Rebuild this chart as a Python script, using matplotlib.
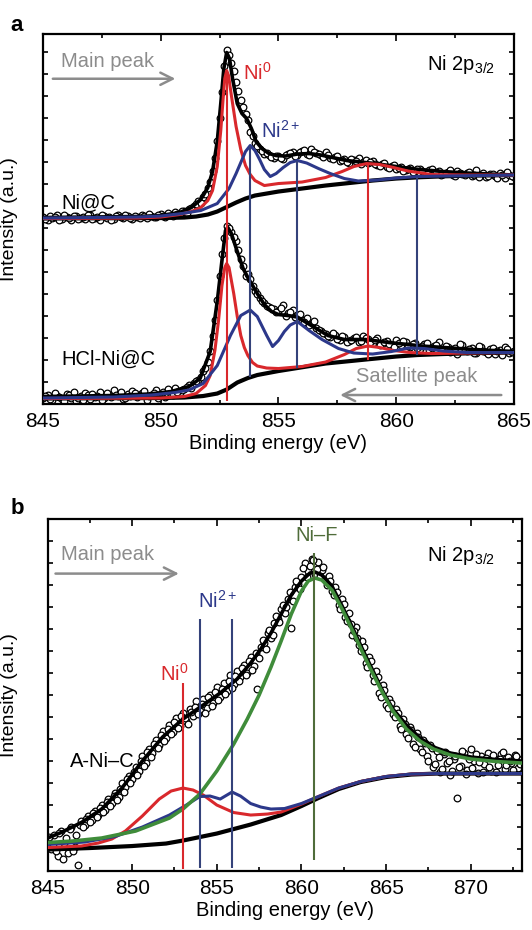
import numpy as np
import matplotlib
matplotlib.use('Agg')
import matplotlib.pyplot as plt
from matplotlib.ticker import MultipleLocator

plt.rcParams['font.family'] = ['Liberation Sans', 'DejaVu Sans']
plt.rcParams['mathtext.fontset'] = 'custom'
plt.rcParams['mathtext.rm'] = 'Liberation Sans'
plt.rcParams['mathtext.default'] = 'regular'

# ---------------- panel a : Ni@C (upper trace) ----------------
a1_bg_e = [845, 850, 851, 851.5, 852, 852.4, 852.8, 853.2, 853.6, 854, 855, 856, 857, 858, 859, 860, 861, 862, 863, 865]
a1_bg_i = [185, 185.5, 186, 187, 189, 192, 196.5, 201, 205, 208, 212, 215, 218, 220.5, 223, 225, 226.3, 227.2, 227.8, 228.5]

a1_ni0_e = [845, 849, 850, 850.8, 851.3, 851.7, 852.0, 852.2, 852.4, 852.55, 852.65, 852.72, 852.8, 852.88, 853.0, 853.2,
            853.4, 853.6, 853.8, 854.0, 854.4, 855, 856, 857, 857.7, 858.2, 858.75, 859.3, 859.8, 860.5, 861.5, 863, 865]
a1_ni0_i = [185, 185.5, 186.5, 189, 192, 196, 203, 213, 237, 273, 305, 325, 333, 328, 308, 277,
            254, 238, 229, 223, 218, 220, 221.5, 226, 232, 237, 240, 239, 236.5, 232.5, 229, 228.5, 228.5]

a1_ni2_e = [845, 849, 850, 850.9, 851.7, 852.4, 852.9, 853.2, 853.4, 853.6, 853.8, 854.0, 854.2, 854.4, 854.65,
            854.9, 855.2, 855.5, 855.8, 856.2, 856.7, 857.2, 857.8, 858.4, 859.2, 860, 860.9, 862, 865]
a1_ni2_i = [185.5, 186.5, 187.5, 190, 193, 200, 215, 230, 241, 252, 258, 253, 244, 234, 227,
            230, 236, 241, 243, 240.5, 235, 230, 225, 222.5, 223.5, 225.5, 227, 227.5, 228.5]

a1_fit_e = [845, 847, 849, 850, 850.8, 851.3, 851.7, 852.0, 852.2, 852.4, 852.55, 852.68, 852.8, 852.92, 853.05, 853.25,
            853.45, 853.65, 853.85, 854.05, 854.3, 854.6, 854.9, 855.3, 855.8, 856.3, 856.8, 857.3, 857.9, 858.5,
            859.1, 859.7, 860.3, 861, 862, 863, 864, 865]
a1_fit_i = [186, 186.5, 187, 188, 191, 196, 204, 216, 232, 262, 300, 335, 351, 345, 325, 300,
            290, 285, 275, 262, 255, 250, 248, 247.5, 249.5, 250, 248.5, 246, 243, 241.5,
            240, 238, 236, 234, 232, 230.5, 229.5, 228.5]

# measured points at 845.0, 845.2 ... 865.0 eV
a1_pts = [187, 184, 186, 189, 185, 187, 184, 188, 186, 185,
          189, 186, 184, 188, 187, 185, 189, 186, 188, 185,
          187, 189, 186, 188, 187, 190, 187, 189, 192, 190,
          193, 195, 198, 203, 207, 216, 233, 263, 312, 354,
          341, 322, 304, 290, 272, 261, 255, 250, 249, 246,
          248, 245, 250, 252, 249, 253, 250, 255, 251, 249,
          252, 246, 247, 243, 245, 241, 244, 246, 242, 241,
          243, 239, 240, 237, 238, 235, 237, 234, 236, 233,
          235, 232, 234, 231, 233, 230, 232, 229, 233, 230,
          231, 228, 234, 229, 227, 230, 228, 231, 226, 229,
          227]
# measured points at 845.1, 845.3 ... 864.9 eV
a1_pts_mid = [185, 188, 187, 184, 189, 186, 188, 185, 187, 189,
              185, 187, 189, 186, 184, 188, 187, 189, 186, 188,
              186, 188, 190, 187, 189, 188, 191, 188, 190, 193,
              191, 196, 200, 201, 210, 222, 246, 286, 338, 349,
              333, 313, 297, 284, 268, 258, 253, 251, 247, 248,
              246, 249, 251, 248, 252, 254, 249, 252, 250, 247,
              249, 245, 248, 244, 242, 245, 243, 240, 244, 242,
              240, 238, 241, 236, 239, 236, 233, 235, 232, 235,
              233, 230, 235, 232, 229, 231, 234, 228, 231, 229,
              232, 229, 227, 231, 228, 230, 226, 229, 232, 228]

# ---------------- panel a : HCl-Ni@C (lower trace) ----------------
a2_bg_e = [845, 850, 851, 851.8, 852.4, 852.8, 853.25, 853.7, 854.1, 855, 855.8, 857, 858.7, 860, 860.9, 862, 863.5, 865]
a2_bg_i = [5, 5.5, 6, 7.5, 10, 14, 21, 25.5, 28.5, 32.5, 35.5, 40, 44, 47, 48.5, 49.5, 50.5, 51]

a2_ni0_e = [845, 850, 851, 851.5, 851.9, 852.1, 852.3, 852.45, 852.6, 852.72, 852.8, 852.9, 853.1, 853.25, 853.4, 853.55,
            853.7, 853.9, 854.1, 854.5, 855, 856, 857, 857.8, 858.3, 858.8, 859.3, 859.9, 860.6, 861.5, 863, 865]
a2_ni0_i = [5, 5.5, 7, 10, 18, 28, 53, 82, 118, 136, 140, 136, 110, 87, 68, 56,
            48, 41, 37.5, 35.5, 35, 37, 41.5, 49, 55, 57.5, 56, 53, 51, 50, 50.5, 51]

a2_ni2_e = [845, 848, 849.6, 850.6, 851.2, 851.8, 852.4, 852.96, 853.4, 853.8, 854.1, 854.5, 854.75, 855.0,
            855.25, 855.5, 855.8, 856.3, 856.85, 857.55, 858.2, 859.0, 859.8, 860.5, 861.2, 862, 863, 865]
a2_ni2_i = [5.5, 6.5, 8.5, 11, 13.5, 20, 38, 68, 88, 93.5, 87, 68, 57, 63,
            72, 78.5, 82, 73, 64, 55, 50.5, 49.5, 52, 55.5, 55, 52.5, 51, 51]

a2_fit_e = [845, 848, 849.5, 850.45, 851.2, 851.67, 852.1, 852.4, 852.6, 852.75, 852.85, 853.0, 853.25, 853.5, 853.7,
            854.1, 854.4, 854.7, 855.0, 855.4, 855.8, 856.4, 857.1, 857.8, 858.7, 859.7, 861.1, 863.3, 865]
a2_fit_i = [7, 8, 9.5, 12, 17, 25, 52, 102, 143, 173, 176, 170, 152, 135, 126,
            110, 99, 92, 89, 88, 86.5, 78, 68, 64, 64, 61, 57.5, 54, 52]

a2_pts = [6, 9, 4, 8, 5, 10, 6, 3, 8, 11,
          5, 7, 12, 6, 9, 14, 8, 5, 10, 13,
          7, 11, 4, 9, 14, 10, 7, 13, 16, 11,
          15, 19, 21, 24, 33, 42, 68, 104, 150, 178,
          172, 163, 145, 128, 125, 113, 106, 101, 97, 95,
          93, 99, 91, 94, 89, 84, 86, 80, 76, 73,
          70, 67, 69, 64, 67, 63, 66, 62, 68, 65,
          61, 66, 60, 63, 58, 64, 59, 62, 57, 61,
          55, 60, 54, 58, 62, 53, 57, 55, 50, 59,
          53, 56, 51, 57, 52, 55, 50, 54, 57, 51,
          53]
a2_pts_mid = [8, 5, 11, 7, 3, 9, 12, 6, 4, 9,
              10, 8, 4, 11, 7, 9, 12, 6, 8, 11,
              9, 13, 8, 11, 6, 12, 15, 9, 12, 14,
              17, 16, 23, 27, 36, 53, 84, 128, 166, 176,
              167, 154, 138, 130, 118, 110, 103, 98, 96, 92,
              96, 88, 92, 87, 90, 82, 79, 83, 74, 71,
              68, 71, 65, 68, 62, 64, 67, 63, 66, 62,
              64, 59, 62, 60, 57, 61, 63, 58, 60, 56,
              58, 61, 56, 59, 54, 58, 52, 56, 60, 54,
              55, 51, 58, 53, 50, 56, 53, 49, 55, 52]

# peak position markers in panel a
a_lines_e = [852.8, 853.8, 855.8, 858.8, 860.9]
a_lines_lo = [3, 26.5, 35.5, 44, 48.5]
a_lines_hi = [333, 258, 243, 240, 227]
a_lines_kind = ['ni0', 'ni2', 'ni2', 'ni0', 'ni2']

# ---------------- panel b : A-Ni-C ----------------
b_bg_e = [845, 847.5, 850, 852, 853, 855, 857, 858.8, 860, 861, 862.2, 863.5, 865, 866.5, 868, 873]
b_bg_i = [21.5, 23, 25, 27.5, 30.5, 37.5, 46.5, 56, 65, 73, 82, 89, 94, 96.5, 97.5, 97.5]

b_ni0_e = [845, 847, 848, 848.8, 849.6, 850.6, 851.6, 852.3, 853.0, 853.6, 854.2, 855, 856, 857, 858, 858.8,
           860, 861, 862.2, 863.5, 865, 866.5, 868, 873]
b_ni0_i = [23.5, 25, 28, 32, 40, 55, 72, 80, 83, 81, 76, 66, 58.5, 56, 57, 59,
           67, 74.5, 83, 89.5, 94.5, 97, 97.5, 97.5]

b_ni2_e = [845, 847.2, 849, 850.6, 852.2, 853.2, 854.0, 854.6, 855.2, 855.9, 856.4, 857.0, 857.6, 858.2, 859,
           860, 861, 862.2, 863.5, 865, 866.5, 868, 873]
b_ni2_i = [26.5, 29, 34.5, 44, 56, 66, 74.5, 75, 72, 79, 75, 67.5, 64, 62, 62.5,
           67.5, 74.5, 83, 89.5, 94.5, 97, 97.5, 97.5]

b_nif_e = [845, 846.5, 848.2, 850.2, 852.2, 853.0, 854.0, 855.0, 856.0, 856.8, 857.5, 858.2, 858.8, 859.4, 860.0,
           860.4, 860.8, 861.2, 861.8, 862.4, 863.0, 863.6, 864.2, 864.8, 865.4, 866.2, 867.0, 867.8, 868.8, 870.0,
           871.5, 873]
b_nif_i = [28.5, 30, 33, 40, 53, 62, 77, 100, 127, 152, 176, 204, 230, 257, 280,
           290, 293, 291, 281, 262, 241, 219, 198, 178, 160, 142, 130, 122, 116, 112,
           109.5, 108]

b_fit_e = [845, 845.8, 847, 848.2, 849.4, 850.6, 851.8, 853.0, 854.2, 855.2, 856.2, 857.0, 857.6, 858.2, 858.8,
           859.4, 860.0, 860.5, 860.8, 861.2, 861.8, 862.4, 863.0, 863.6, 864.2, 864.8, 865.4, 866.2, 867.0, 867.8,
           868.8, 870.0, 871.5, 873]
b_fit_i = [33, 38.5, 48.5, 62, 83, 110, 134, 152, 166, 178, 192, 208, 222, 238, 257,
           276, 290, 298, 299, 296, 285, 265, 244, 222, 201, 180, 162, 146, 133, 124,
           118, 114, 111.5, 110]

# measured points at 845.0, 845.2 ... 873.0 eV
b_pts = [30, 22, 36, 15, 40, 28, 18, 44, 24, 6,
         50, 46, 55, 51, 60, 56, 66, 61, 72, 68,
         78, 74, 88, 84, 95, 92, 104, 100, 115, 108,
         122, 118, 131, 126, 140, 133, 146, 139, 153, 145,
         158, 150, 162, 155, 170, 160, 172, 163, 176, 168,
         184, 174, 188, 180, 196, 187, 200, 194, 206, 198,
         214, 205, 182, 224, 228, 238, 233, 248, 252, 262,
         258, 272, 243, 284, 287, 294, 308, 300, 312, 297,
         309, 301, 292, 295, 280, 284, 266, 272, 254, 258,
         236, 244, 226, 230, 208, 214, 196, 200, 178, 186,
         166, 172, 157, 162, 145, 152, 137, 144, 127, 138,
         122, 131, 115, 126, 104, 120, 99, 117, 108, 96,
         112, 73, 105, 118, 101, 122, 110, 98, 115, 107,
         118, 100, 113, 106, 117, 102, 114, 108, 116, 103,
         112]
# measured points at 845.1, 845.3 ... 872.9 eV
b_pts_mid = [34, 25, 20, 38, 12, 33, 42, 20, 36, 46,
             44, 52, 49, 58, 54, 63, 59, 69, 65, 75,
             71, 82, 79, 92, 88, 99, 96, 110, 105, 119,
             114, 127, 123, 136, 130, 142, 137, 149, 143, 155,
             153, 147, 159, 164, 157, 167, 158, 174, 165, 179,
             171, 182, 177, 190, 183, 195, 190, 203, 196, 210,
             201, 218, 213, 231, 222, 241, 236, 255, 249, 266,
             264, 279, 270, 290, 282, 303, 294, 305, 311, 302,
             295, 304, 286, 290, 276, 279, 262, 267, 250, 247,
             240, 233, 220, 224, 204, 210, 190, 194, 174, 181,
             163, 168, 154, 158, 142, 147, 133, 141, 124, 134,
             119, 128, 110, 123, 107, 114, 102, 119, 110, 100,
             115, 104, 120, 97, 112, 103, 117, 109, 99, 113,
             104, 116, 99, 112, 119, 106, 110, 101, 115, 107]

b_lines_e = [853.0, 854.0, 855.9, 860.75]
b_lines_lo = [2, 2.7, 2.7, 11.5]
b_lines_hi = [188, 252, 252, 318.5]
b_lines_kind = ['ni0', 'ni2', 'ni2', 'nif']

# ---------------- styles ----------------
RED = '#d9282c'
BLUE = '#2c388a'
VBLUE = '#34427a'
GREEN = '#3f8c3a'
VGREEN = '#4f6c3a'
GRAY = '#8c8c8c'
vcol = {'ni0': RED, 'ni2': VBLUE, 'nif': VGREEN}

FS = 14.5


def style_axes(ax, xlo, xhi, ytop):
    ax.set_xlim(xlo, xhi)
    ax.set_ylim(0, ytop)
    ax.xaxis.set_major_locator(MultipleLocator(5))
    ax.xaxis.set_minor_locator(MultipleLocator(2.5))
    ax.yaxis.set_major_locator(MultipleLocator(22))
    ax.tick_params(which='both', direction='in', top=True, right=True, width=1.2)
    ax.tick_params(which='major', length=5, labelsize=15, pad=6)
    ax.tick_params(which='minor', length=3)
    ax.tick_params(axis='y', which='major', length=3.5)
    ax.set_yticklabels([])
    for s in ax.spines.values():
        s.set_linewidth(1.6)
    ax.set_xlabel('Binding energy (eV)', fontsize=FS, labelpad=2)
    ax.set_ylabel('Intensity (a.u.)', fontsize=14)


def points(ax, e0, e1, vals, mid):
    e = np.linspace(e0, e1, len(vals))
    em = np.linspace(e0 + 0.1, e1 - 0.1, len(mid))
    ax.plot(np.concatenate([e, em]), np.concatenate([vals, mid]), 'o', ms=4.8,
            mfc='white', mec='black', mew=0.9, zorder=2)


fig = plt.figure(figsize=(5.32, 9.30), dpi=100)

# ---------- panel a ----------
ax = fig.add_axes([0.0808, 0.5661, 0.8853, 0.3973])
points(ax, 845, 865, a1_pts, a1_pts_mid)
points(ax, 845, 865, a2_pts, a2_pts_mid)
for fe, fi, be, bi in [(a1_fit_e, a1_fit_i, a1_bg_e, a1_bg_i), (a2_fit_e, a2_fit_i, a2_bg_e, a2_bg_i)]:
    ax.plot(fe, fi, color='black', lw=2.6, zorder=3)
    ax.plot(be, bi, color='black', lw=3.0, zorder=3)
ax.plot(a1_ni0_e, a1_ni0_i, color=RED, lw=2.2, zorder=4)
ax.plot(a1_ni2_e, a1_ni2_i, color=BLUE, lw=2.2, zorder=4)
ax.plot(a2_ni0_e, a2_ni0_i, color=RED, lw=2.2, zorder=4)
ax.plot(a2_ni2_e, a2_ni2_i, color=BLUE, lw=2.2, zorder=4)
for e, lo, hi, k in zip(a_lines_e, a_lines_lo, a_lines_hi, a_lines_kind):
    ax.vlines(e, lo, hi, color=vcol[k], lw=1.5, zorder=5)
style_axes(ax, 845, 865, 369.5)
ax.yaxis.set_label_coords(-0.053, 0.5)

ax.text(0.038, 0.927, 'Main peak', color=GRAY, fontsize=FS, transform=ax.transAxes, va='center')
ax.annotate('', xy=(0.287, 0.879), xytext=(0.015, 0.879), xycoords='axes fraction',
            arrowprops=dict(arrowstyle='->', color=GRAY, lw=1.8, mutation_scale=22))
ax.text(0.664, 0.073, 'Satellite peak', color=GRAY, fontsize=FS, transform=ax.transAxes, va='center')
ax.annotate('', xy=(0.625, 0.023), xytext=(0.979, 0.023), xycoords='axes fraction',
            arrowprops=dict(arrowstyle='->', color=GRAY, lw=1.8, mutation_scale=22))
ax.text(0.424, 0.895, r'Ni$^{0}$', color=RED, fontsize=FS, transform=ax.transAxes, va='center')
ax.text(0.462, 0.739, r'Ni$^{2+}$', color=BLUE, fontsize=FS, transform=ax.transAxes, va='center')
ax.text(0.815, 0.9175, r'Ni 2p$_{3/2}$', color='black', fontsize=FS, transform=ax.transAxes, va='center')
ax.text(0.038, 0.541, 'Ni@C', color='black', fontsize=FS, transform=ax.transAxes, va='center')
ax.text(0.038, 0.119, 'HCl-Ni@C', color='black', fontsize=FS, transform=ax.transAxes, va='center')
fig.text(0.032, 0.973, 'a', fontsize=16, fontweight='bold', ha='center', va='center')

# ---------- panel b ----------
ax = fig.add_axes([0.0893, 0.0634, 0.891, 0.3785])
points(ax, 845, 873, b_pts, b_pts_mid)
ax.plot(b_fit_e, b_fit_i, color='black', lw=2.6, zorder=3)
ax.plot(b_bg_e, b_bg_i, color='black', lw=3.0, zorder=3)
ax.plot(b_ni0_e, b_ni0_i, color=RED, lw=2.2, zorder=4)
ax.plot(b_ni2_e, b_ni2_i, color=BLUE, lw=2.2, zorder=4)
ax.plot(b_nif_e, b_nif_i, color=GREEN, lw=2.6, zorder=4)
for e, lo, hi, k in zip(b_lines_e, b_lines_lo, b_lines_hi, b_lines_kind):
    ax.vlines(e, lo, hi, color=vcol[k], lw=1.5, zorder=5)
style_axes(ax, 845, 873, 352)
ax.yaxis.set_label_coords(-0.062, 0.5)

ax.text(0.0285, 0.898, 'Main peak', color=GRAY, fontsize=FS, transform=ax.transAxes, va='center')
ax.annotate('', xy=(0.283, 0.845), xytext=(0.011, 0.845), xycoords='axes fraction',
            arrowprops=dict(arrowstyle='->', color=GRAY, lw=1.8, mutation_scale=22))
ax.text(0.568, 0.952, 'Ni–F', color=VGREEN, fontsize=FS, transform=ax.transAxes, va='center', ha='center')
ax.text(0.8006, 0.8977, r'Ni 2p$_{3/2}$', color='black', fontsize=FS, transform=ax.transAxes, va='center')
ax.text(0.3165, 0.768, r'Ni$^{2+}$', color=BLUE, fontsize=FS, transform=ax.transAxes, va='center')
ax.text(0.2363, 0.561, r'Ni$^{0}$', color=RED, fontsize=FS, transform=ax.transAxes, va='center')
ax.text(0.048, 0.3125, 'A-Ni–C', color='black', fontsize=FS, transform=ax.transAxes, va='center')
fig.text(0.032, 0.4527, 'b', fontsize=16, fontweight='bold', ha='center', va='center')

fig.savefig('out.png', dpi=100)
